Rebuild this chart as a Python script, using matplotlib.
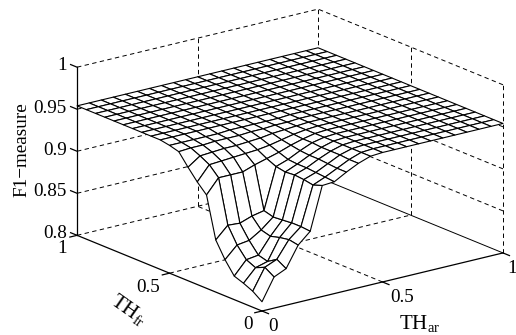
"""F1-measure surface over the two thresholds TH_ar and TH_fr (MATLAB style mesh)."""
import numpy as np
import matplotlib
matplotlib.use("Agg")
import matplotlib.pyplot as plt
from mpl_toolkits.mplot3d import proj3d

plt.rcParams["font.family"] = ["Liberation Serif", "DejaVu Serif"]
plt.rcParams["mathtext.fontset"] = "custom"
plt.rcParams["mathtext.rm"] = "Liberation Serif"

W, H = 516, 335

th_ar = np.linspace(0, 1, 21)
th_fr = np.linspace(0, 1, 21)
# one row per TH_fr step, one column per TH_ar step
f1 = [
    [.811, .837, .8435, .868, .881, .932, .933, .941, .948, .953, .954, .954, .954, .954, .954, .954, .954, .954, .954, .954, .954],
    [.819, .844, .850, .870, .882, .928, .934, .941, .948, .953, .954, .954, .954, .954, .954, .954, .954, .954, .954, .954, .954],
    [.824, .839, .843, .868, .882, .930, .935, .942, .949, .953, .954, .954, .954, .954, .954, .954, .954, .954, .954, .954, .954],
    [.828, .844, .846, .865, .881, .931, .936, .943, .949, .953, .954, .954, .954, .954, .954, .954, .954, .954, .954, .954, .954],
    [.843, .857, .859, .868, .880, .930, .936, .943, .949, .953, .954, .954, .954, .954, .954, .954, .954, .954, .954, .954, .954],
    [.862, .876, .875, .880, .883, .932, .937, .944, .950, .953, .954, .954, .954, .954, .954, .954, .954, .954, .954, .954, .954],
    [.911, .928, .928, .928, .933, .937, .941, .946, .950, .953, .954, .954, .954, .954, .954, .954, .954, .954, .954, .954, .954],
    [.922, .939, .940, .941, .942, .943, .945, .948, .951, .953, .954, .954, .954, .954, .954, .954, .954, .954, .954, .954, .954],
    [.935, .945, .946, .947, .947, .948, .949, .951, .952, .953, .954, .954, .954, .954, .954, .954, .954, .954, .954, .954, .954],
    [.949, .950, .950, .951, .951, .951, .952, .952, .953, .953, .954, .954, .954, .954, .954, .954, .954, .954, .954, .954, .954],
    [.952, .952, .952, .952, .952, .953, .953, .953, .953, .953, .954, .954, .954, .954, .954, .954, .954, .954, .954, .954, .954],
    [.954, .954, .954, .954, .954, .954, .954, .954, .954, .954, .954, .954, .954, .954, .954, .954, .954, .954, .954, .954, .954],
    [.954, .954, .954, .954, .954, .954, .954, .954, .954, .954, .954, .954, .954, .954, .954, .954, .954, .954, .954, .954, .954],
    [.954, .954, .954, .954, .954, .954, .954, .954, .954, .954, .954, .954, .954, .954, .954, .954, .954, .954, .954, .954, .954],
    [.954, .954, .954, .954, .954, .954, .954, .954, .954, .954, .954, .954, .954, .954, .954, .954, .954, .954, .954, .954, .954],
    [.954, .954, .954, .954, .954, .954, .954, .954, .954, .954, .954, .954, .954, .954, .954, .954, .954, .954, .954, .954, .954],
    [.954, .954, .954, .954, .954, .954, .954, .954, .954, .954, .954, .954, .954, .954, .954, .954, .954, .954, .954, .954, .954],
    [.954, .954, .954, .954, .954, .954, .954, .954, .954, .954, .954, .954, .954, .954, .954, .954, .954, .954, .954, .954, .954],
    [.954, .954, .954, .954, .954, .954, .954, .954, .954, .954, .954, .954, .954, .954, .954, .954, .954, .954, .954, .954, .954],
    [.954, .954, .954, .954, .954, .954, .954, .954, .954, .954, .954, .954, .954, .954, .954, .954, .954, .954, .954, .954, .954],
    [.954, .954, .954, .954, .954, .954, .954, .954, .954, .954, .954, .954, .954, .954, .954, .954, .954, .954, .954, .954, .954],
]

x_ticks = [0, 0.5, 1]
y_ticks = [0, 0.5, 1]
z_ticks = [0.8, 0.85, 0.9, 0.95, 1]
z_labels = ["0.8", "0.85", "0.9", "0.95", "1"]
x_labels = ["0", "0.5", "1"]
y_labels = ["0", "0.5", "1"]

fig = plt.figure(figsize=(W / 100, H / 100), dpi=100, facecolor="white")
# big axes box, the 3D content is scaled down below so nothing gets clipped
ax = fig.add_axes([-0.2, -0.8, 1.4, 2.6], projection="3d", computed_zorder=False)
ax.set_proj_type("ortho")
ax.view_init(elev=18.3, azim=-127.5)
ax.set_xlim(0, 1)
ax.set_ylim(0, 1)
ax.set_zlim(0.8, 1)
ax.set_box_aspect((1, 1, 0.583), zoom=1)
ax.set_axis_off()

DASH = (0, (4.5, 3.5))
BG = dict(color="k", lw=0.7, ls=DASH, zorder=1)
AX_LINE = dict(color="k", lw=0.9, zorder=3)

# dashed grid on the two back walls and the floor
for z in z_ticks:
    ax.plot([0, 1], [1, 1], [z, z], **BG)
    if z > 0.8:
        ax.plot([1, 1], [0, 1], [z, z], **BG)
ax.plot([0.5, 0.5], [1, 1], [0.8, 1], **BG)
ax.plot([1, 1], [1, 1], [0.8, 1], **BG)
ax.plot([1, 1], [0.5, 0.5], [0.8, 1], **BG)
ax.plot([1, 1], [0, 0], [0.8, 1], **BG)
ax.plot([0.5, 0.5], [0, 1], [0.8, 0.8], **BG)
ax.plot([0, 1], [0.5, 0.5], [0.8, 0.8], **BG)
ax.plot([1, 1], [0, 1], [0.8, 0.8], color="k", lw=0.7, zorder=1)

X, Y = np.meshgrid(th_ar, th_fr)
ax.plot_surface(X, Y, np.array(f1), rstride=1, cstride=1, color="white",
                edgecolor="k", linewidth=0.8, shade=False, zorder=2)

# solid box edges and tick stubs
ax.plot([0, 1], [0, 0], [0.8, 0.8], **AX_LINE)
ax.plot([0, 0], [0, 1], [0.8, 0.8], **AX_LINE)
ax.plot([0, 0], [1, 1], [0.8, 1], **AX_LINE)
for z in z_ticks:
    ax.plot([0, 0], [1, 1.035], [z, z], **AX_LINE)
for t in x_ticks:
    ax.plot([t, t], [0, -0.035], [0.8, 0.8], **AX_LINE)
for t in y_ticks:
    ax.plot([0, -0.03], [t, t], [0.8, 0.8], **AX_LINE)


def to_px(x, y, z):
    xp, yp, _ = proj3d.proj_transform(x, y, z, ax.get_proj())
    return ax.transData.transform((xp, yp))


# fit the box to the reference: front floor corner (262,311), 241 px wide along x
fig.canvas.draw()
span = to_px(1, 0, 0.8)[0] - to_px(0, 0, 0.8)[0]
ax.set_box_aspect((1, 1, 0.583), zoom=241 / span)
fig.canvas.draw()
front = to_px(0, 0, 0.8)
dx, dy = 262 - front[0], (H - 311) - front[1]
pos = ax.get_position(original=True)
ax.set_position([pos.x0 + dx / W, pos.y0 + dy / H, pos.width, pos.height])


def label(px, py, s, size=13.8, **kw):
    fig.text(px / W, 1 - py / H, s, fontsize=size, va="center", **kw)


for t, y in zip(z_labels, [233.5, 191.5, 150.5, 108.5, 65.5]):
    label(67, y, t, ha="right")
for t, (px, py) in zip(x_labels, [(273, 326.5), (402, 297.5), (512, 268.5)]):
    label(px, py, t, ha="center")
for t, (px, py) in zip(y_labels, [(248, 324.5), (148, 287.5), (62, 248.5)]):
    label(px, py, t, ha="center")
label(22, 150, "F1\u2212measure", ha="center", rotation=90)
label(128, 311, r"TH$_{\mathrm{fr}}$", size=15, ha="center", rotation=-35, rotation_mode="anchor")
label(420, 324, r"TH$_{\mathrm{ar}}$", size=15, ha="center", rotation=0)

fig.savefig("out.png", dpi=100)
